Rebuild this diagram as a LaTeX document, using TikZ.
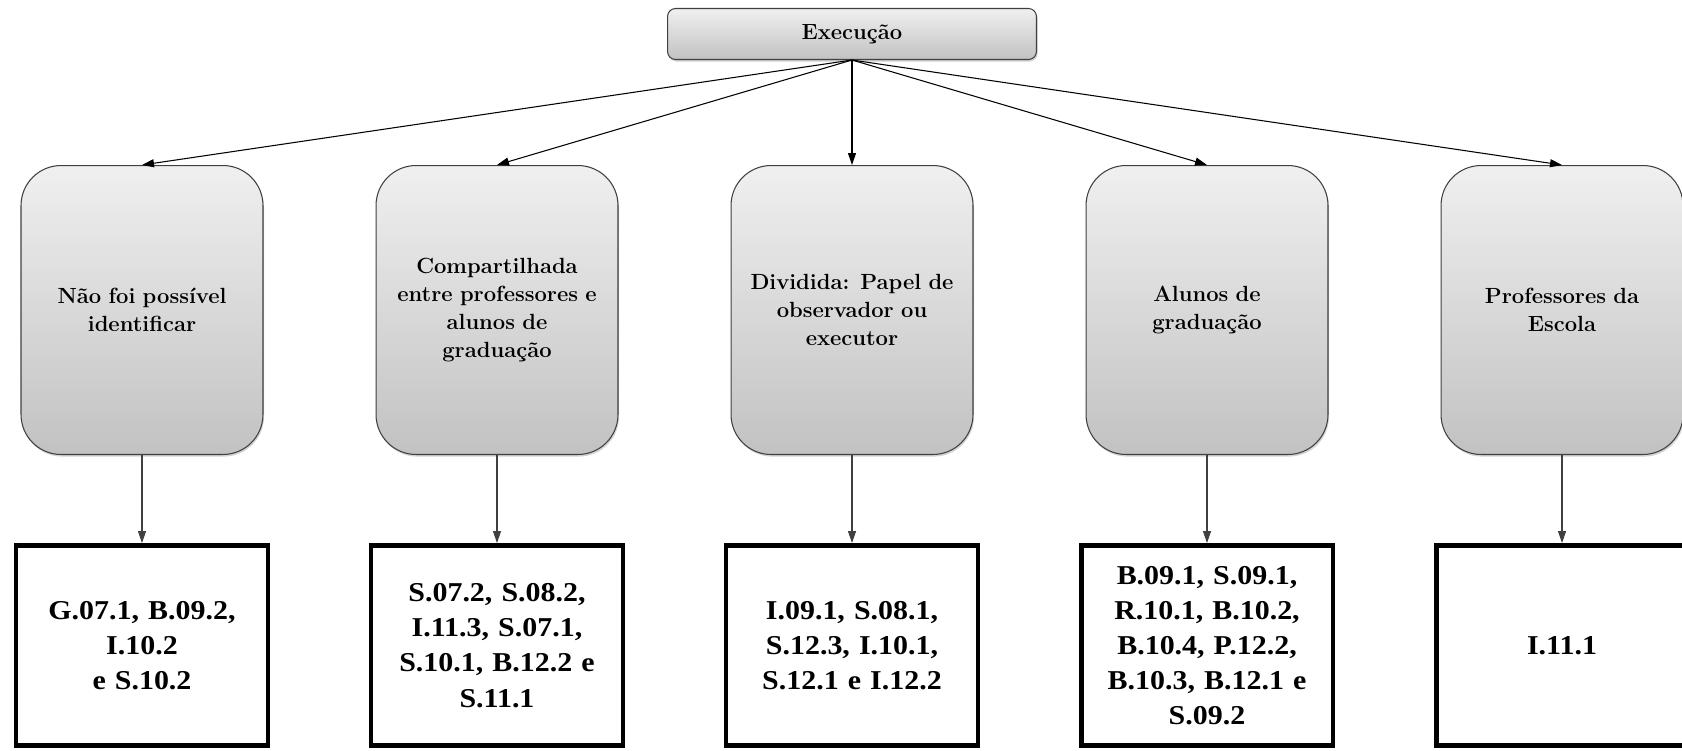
\documentclass[tikz,border=0pt]{standalone}
\usepackage{fontspec}
\newfontfamily\codefont[FakeStretch=1.1]{Liberation Serif}
\usetikzlibrary{arrows.meta,shadows}

\begin{document}
\begin{tikzpicture}[x=0.02cm,y=-0.02cm]
  % Define style for boxes
  \tikzstyle{headbox} = [draw=black!75, line width=0.6pt, rounded corners=0.16cm, top color=black!6, bottom color=black!24, minimum width=7.38cm, minimum height=1.02cm, font=\bfseries\fontsize{12.5}{14}\selectfont, drop shadow={shadow xshift=0.6pt, shadow yshift=-1.2pt, opacity=0.35}]
  \tikzstyle{rolebox} = [draw=black!75, line width=0.6pt, rounded corners=0.8cm, top color=black!6, bottom color=black!24, minimum width=4.84cm, minimum height=5.78cm, text width=4.5cm, align=center, font=\bfseries\fontsize{12.5}{16}\selectfont, drop shadow={shadow xshift=0.6pt, shadow yshift=-1.2pt, opacity=0.35}]
  \tikzstyle{codebox} = [draw, fill=white, line width=2.8pt, minimum width=5.04cm, minimum height=4cm, text width=4.8cm, align=center, font=\codefont\bfseries\fontsize{15.5}{20}\selectfont]
  \tikzstyle{link} = [-{Triangle[length=0.24cm,width=0.16cm]}, line width=0.6pt]

  \useasboundingbox (0,0) rectangle (1682,750);

  \node(exec)[headbox] at (852,34) {Execução};

  % Draw the roles and their codes
  \foreach \col/\rtitle/\codes in {
    1/{Não foi possível\\identificar}/{G.07.1, B.09.2,\\I.10.2\\e S.10.2},
    2/{Compartilhada\\entre professores e\\alunos de\\graduação}/{S.07.2, S.08.2,\\I.11.3, S.07.1,\\S.10.1, B.12.2 e\\S.11.1},
    3/{Dividida: Papel de\\observador ou\\executor}/{I.09.1, S.08.1,\\S.12.3, I.10.1,\\S.12.1 e I.12.2},
    4/{Alunos de\\graduação}/{B.09.1, S.09.1,\\R.10.1, B.10.2,\\B.10.4, P.12.2,\\B.10.3, B.12.1 e\\S.09.2},
    5/{Professores da\\Escola}/{I.11.1}} {
    \node(r\col)[rolebox] at (142+355*\col-355, 310) {\rtitle};
    \node(c\col)[codebox] at (142+355*\col-355, 645.5) {\codes};
    \draw[link] (exec.south) -- (r\col.north);
    \draw[link, black!75] (r\col.south) -- (c\col.north);
  }
\end{tikzpicture}
\end{document}
